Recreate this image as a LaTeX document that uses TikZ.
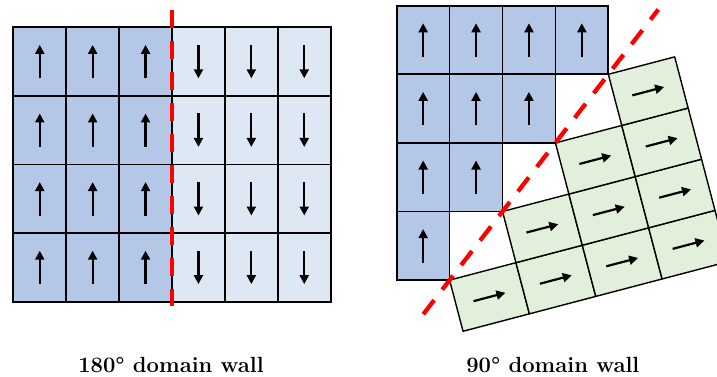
\documentclass[tikz,border=0pt]{standalone}
\usetikzlibrary{arrows.meta}
\definecolor{darkblue}{HTML}{B4C7E7}
\definecolor{lightblue}{HTML}{DDE8F4}
\definecolor{lightgreen}{HTML}{E2EFDA}
\definecolor{wallred}{HTML}{FF0000}
\tikzset{
  bcell/.style={draw=black, line width=1.7pt, fill=darkblue},
  lcell/.style={draw=black, line width=1.7pt, fill=lightblue},
  gcell/.style={draw=black, line width=1.4pt, fill=lightgreen, line join=round},
  spin/.style={line width=2.2pt, -{Triangle[length=9pt,width=9pt]}},
  wall/.style={draw=wallred, line width=4.3pt, dash pattern=on 17.7pt off 13.3pt},
  caption/.style={font=\fontsize{22}{26}\selectfont\bfseries, anchor=base, inner sep=0pt}
}
\begin{document}
\begin{tikzpicture}[x=1pt, y=-1pt]
\useasboundingbox (0,0) rectangle (717,377);
\clip (0,0) rectangle (717,377);
\def\w{52.9}
\def\h{68.6}
% ---------------- left: 180 degree wall ----------------
\def\lx{13.3}
\def\ly{27.3}
\foreach \c in {0,...,5}{
  \foreach \r in {0,...,3}{
    \ifnum\c<3
      \draw[bcell] ({\lx+\c*\w},{\ly+\r*\h}) rectangle ++(\w,\h);
      \draw[spin] ({\lx+(\c+0.5)*\w},{\ly+(\r+0.5)*\h+16.7}) -- ++(0,-33.4);
    \else
      \draw[lcell] ({\lx+\c*\w},{\ly+\r*\h}) rectangle ++(\w,\h);
      \draw[spin] ({\lx+(\c+0.5)*\w},{\ly+(\r+0.5)*\h-16.7}) -- ++(0,33.4);
    \fi
  }
}
\coordinate (w1a) at (172.3,10);
\coordinate (w1b) at (172.3,306);
\draw[wall] (w1a) -- (w1b);
\node[caption] (cap1) at (171,372) {180° domain wall};
% ---------------- right: 90 degree wall ----------------
\def\rx{396.7}
\def\ry{5.7}
\def\ox{449.6}
\def\oy{280.1}
\def\ux{66.35}
\def\uy{-17.43}
\def\vx{13.44}
\def\vy{51.17}
% green (rotated) cells
\foreach \i in {0,...,3}{
  \foreach \j in {0,...,\i}{
    \draw[gcell]
      ({\ox+\i*\ux-\j*\vx},{\oy+\i*\uy-\j*\vy}) --
      ({\ox+(\i+1)*\ux-\j*\vx},{\oy+(\i+1)*\uy-\j*\vy}) --
      ({\ox+(\i+1)*\ux+(1-\j)*\vx},{\oy+(\i+1)*\uy+(1-\j)*\vy}) --
      ({\ox+\i*\ux+(1-\j)*\vx},{\oy+\i*\uy+(1-\j)*\vy}) -- cycle;
    \draw[spin]
      ({\ox+(\i+0.26)*\ux+(0.5-\j)*\vx},{\oy+(\i+0.26)*\uy+(0.5-\j)*\vy}) --
      ({\ox+(\i+0.74)*\ux+(0.5-\j)*\vx},{\oy+(\i+0.74)*\uy+(0.5-\j)*\vy});
  }
}
% blue staircase
\foreach \r in {0,...,3}{
  \pgfmathtruncatemacro{\cmax}{3-\r}
  \foreach \c in {0,...,\cmax}{
    \draw[bcell] ({\rx+\c*\w},{\ry+\r*\h}) rectangle ++(\w,\h);
    \draw[spin] ({\rx+(\c+0.5)*\w},{\ry+(\r+0.5)*\h+16.7}) -- ++(0,-33.4);
  }
}
\coordinate (w2a) at (423.3,314.2);
\coordinate (w2b) at (658.3,9.5);
\draw[wall] (w2a) -- (w2b);
\node[caption] (cap2) at (552.8,372) {90° domain wall};
\end{tikzpicture}
\end{document}
